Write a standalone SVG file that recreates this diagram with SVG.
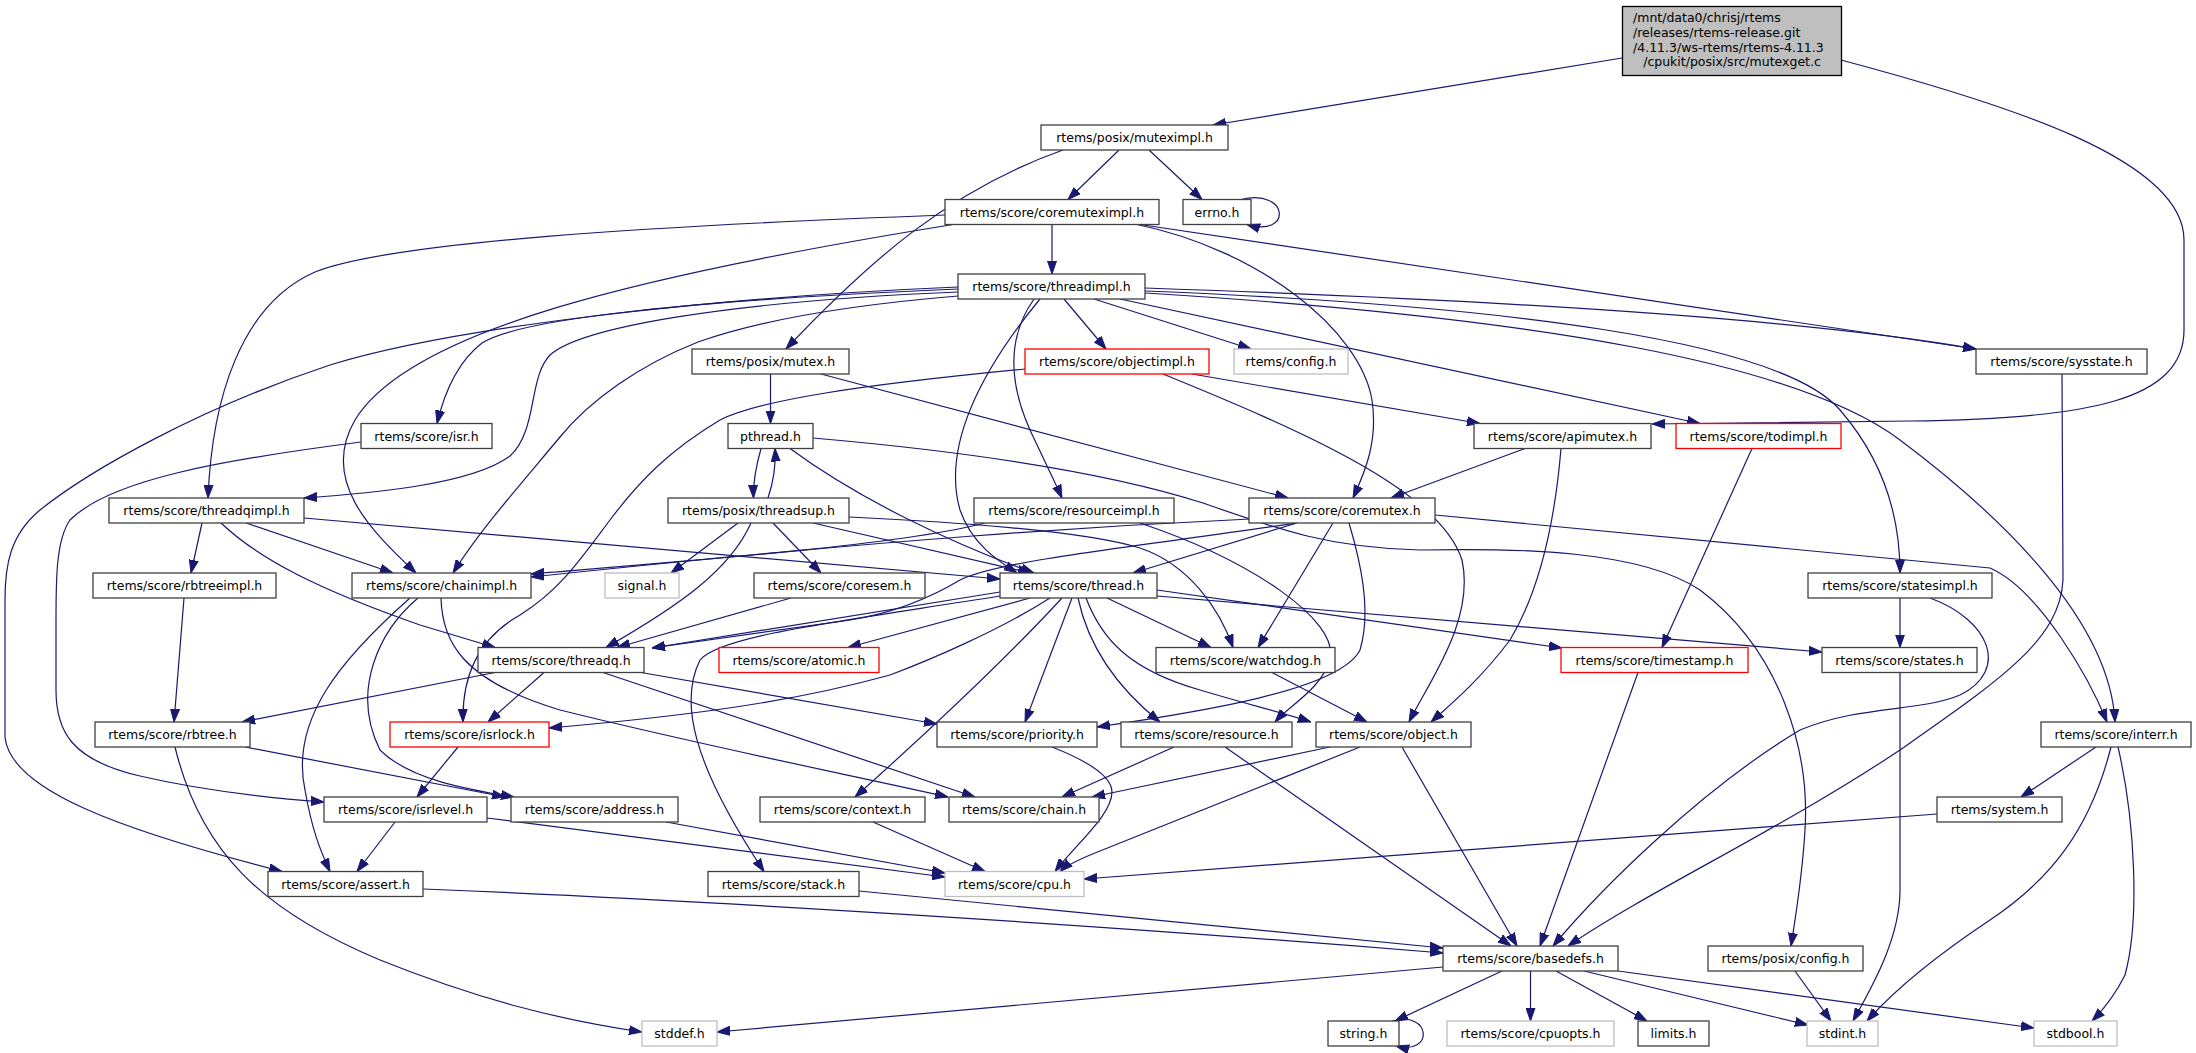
<svg xmlns="http://www.w3.org/2000/svg" width="2196" height="1053" viewBox="0 0 2196 1053">
<style>
.n rect{fill:#ffffff;stroke:#404040;stroke-width:1.3}
.n.r rect{stroke:#ff0000}
.n.g rect{stroke:#bfbfbf}
text{font-family:"DejaVu Sans",Verdana,sans-serif;font-size:12.5px;fill:#000000;text-anchor:middle}
.e path{fill:none;stroke:#191970;stroke-width:1.2;marker-end:url(#a)}
</style>
<defs>
<marker id="a" markerUnits="userSpaceOnUse" markerWidth="13" markerHeight="10" refX="13" refY="5" orient="auto" viewBox="0 0 13 10">
<path d="M0,0.5 L13,5 L0,9.5 z" fill="#191970" stroke="#191970" stroke-width="1"/>
</marker>
</defs>
<rect x="0" y="0" width="2196" height="1053" fill="#ffffff"/>
<g id="edges" class="e">
<path d="M1622,58 L1213,125"/>
<path d="M1841,60 C2010,105 2184,160 2184,240 L2184,330 C2184,400 2090,419 1910,421 L1652,424"/>
<path d="M1063,150 C950,190 870,260 786,349"/>
<path d="M1119,150 L1068,199.5"/>
<path d="M1149,150 L1202,199.5"/>
<path d="M1241,199.5 C1290,188 1292,238 1247,224.5"/>
<path d="M1052,224.5 L1052,274"/>
<path d="M945,215 C650,226 390,242 315,272 C240,305 212,400 208,498"/>
<path d="M953,224.5 C640,275 410,330 355,420 C320,480 370,530 416,573"/>
<path d="M1137,224.5 C1260,250 1360,330 1372,400 C1378,440 1366,470 1353,498"/>
<path d="M1140,224.5 L1976,349"/>
<path d="M958,287 C700,298 450,328 330,365 C200,408 90,470 40,510 C10,535 5,565 5,600 L5,737 C10,790 120,830 282,871.5"/>
<path d="M958,289 C700,300 520,318 482,343 C460,360 445,390 437,423.5"/>
<path d="M958,292 C720,302 580,328 550,355 C528,378 538,430 510,456 C470,486 360,494 304,498"/>
<path d="M958,296 C850,305 760,320 698,342 C640,365 590,400 560,437 C520,485 480,530 453,573"/>
<path d="M1040,299 C990,360 940,440 960,510 C972,545 1000,562 1017,573"/>
<path d="M1064,299 L1106,349"/>
<path d="M1094,299 L1251,349"/>
<path d="M1034,299 C1005,340 1010,385 1030,430 C1045,462 1055,482 1062,498"/>
<path d="M1120,299 L1700,423.5"/>
<path d="M1145,288 C1500,300 1800,318 1976,349"/>
<path d="M1145,291 C1500,305 1780,340 1840,410 C1885,462 1900,520 1900,573"/>
<path d="M1145,293 C1550,318 1800,365 1900,440 C2000,515 2110,620 2115,722"/>
<path d="M770.5,374 L770.5,423.5"/>
<path d="M821,374 L1288,498"/>
<path d="M761,448.5 C755,470 753,485 753.5,498"/>
<path d="M768,498 C774,480 776,465 775,448.5"/>
<path d="M790,448.5 C860,500 955,545 1034,573"/>
<path d="M813,438 C950,450 1100,470 1203,503 C1280,530 1330,548 1420,550 C1520,548 1640,550 1700,590 C1780,650 1810,750 1805,830 C1802,880 1795,920 1791,946"/>
<path d="M738,523 L671,573"/>
<path d="M773,523 L821,573"/>
<path d="M751,523 C730,570 680,605 606,647.5"/>
<path d="M813,523 L1031,573"/>
<path d="M849,517 C950,522 1080,530 1140,548 C1190,565 1220,610 1233,647.5"/>
<path d="M791,598 L617,647.5"/>
<path d="M985,523 C900,545 700,560 531,574"/>
<path d="M1250,519 C1100,526 900,538 531,577"/>
<path d="M1140,523 C1250,560 1340,620 1330,660 C1320,690 1290,705 1275,722"/>
<path d="M1297,523 L1133,573"/>
<path d="M1297,523 C1150,545 1000,560 960,580 C935,595 900,612 850,620 L652,648"/>
<path d="M1333,523 L1258,647.5"/>
<path d="M1349,523 C1360,560 1372,610 1360,650 C1340,690 1200,712 1097,727"/>
<path d="M1435,515 L1990,568 C2040,590 2090,680 2107,722"/>
<path d="M1525,448.5 L1391,498"/>
<path d="M1561,448.5 C1555,520 1540,590 1510,640 C1480,680 1450,705 1431,722"/>
<path d="M1752,448.5 L1662,647.5"/>
<path d="M1192,374 L1480,423.5"/>
<path d="M1163,374 C1300,430 1440,490 1462,560 C1475,620 1430,680 1409,722"/>
<path d="M1025,369 C860,385 760,400 720,420 C670,450 640,480 610,520 C580,560 560,590 520,615 C475,640 462,680 463,722"/>
<path d="M202,523 L191,573"/>
<path d="M246,523 L393,573"/>
<path d="M221,523 C260,560 320,590 420,625 L495,647.5"/>
<path d="M304,518 L1000,579"/>
<path d="M184,598 L174,722"/>
<path d="M441,598 C442,640 460,680 560,710 C700,745 850,775 948,797"/>
<path d="M418,598 C380,630 350,690 380,750 C410,780 470,790 514,797"/>
<path d="M410,598 C340,660 290,720 305,790 C312,830 320,850 330,871.5"/>
<path d="M245,747 L505,797"/>
<path d="M175,747 C200,850 260,910 380,960 C480,1000 560,1020 642,1032"/>
<path d="M495,672.5 L242,722"/>
<path d="M544,672.5 L488,722"/>
<path d="M641,672.5 L937,724"/>
<path d="M603,672.5 L975,797"/>
<path d="M458,747 L417,797"/>
<path d="M361,442 C220,460 110,480 70,520 C56,540 56,580 56,620 L56,690 C56,730 70,760 140,776 C200,790 270,798 324,802"/>
<path d="M395,822 L357,871.5"/>
<path d="M487,818 L945,877"/>
<path d="M666,822 L945,873"/>
<path d="M873,822 L985,871.5"/>
<path d="M1052,747 C1085,760 1112,775 1112,792 C1112,815 1075,845 1055,871.5"/>
<path d="M1360,747 L1100,851 C1082,858 1068,864 1060,871.5"/>
<path d="M1937,814 L1084,879"/>
<path d="M859,891 L1443,948"/>
<path d="M423,889 C700,900 1100,925 1443,953"/>
<path d="M1225,747 L1511,946"/>
<path d="M1402,747 L1517,946"/>
<path d="M1638,672.5 L1540,946"/>
<path d="M1930,598 C1990,620 2010,670 1960,695 C1920,712 1860,705 1800,730 C1700,790 1600,890 1553,946"/>
<path d="M2062,374 L2063,580 C2060,640 2000,680 1900,750 C1780,830 1650,890 1568,946"/>
<path d="M2096,747 L2021,797"/>
<path d="M2111,747 C2090,830 2050,880 1990,920 C1930,960 1890,995 1867,1021"/>
<path d="M2118,747 C2135,820 2140,920 2125,975 C2115,995 2103,1010 2092,1021"/>
<path d="M1900,672.5 L1900,890 C1900,940 1870,990 1853,1021"/>
<path d="M1795,971 L1831,1021"/>
<path d="M1584,971 L1808,1025"/>
<path d="M1618,971 L2034,1028"/>
<path d="M1556,971 L1647,1021"/>
<path d="M1530.5,971 L1530.5,1021"/>
<path d="M1502,971 L1395,1021"/>
<path d="M1443,967 L717,1032"/>
<path d="M1392,1021 C1432,1010 1434,1056 1396,1046"/>
<path d="M1030,598 L848,647.5"/>
<path d="M1050,598 C1000,630 930,660 890,675 C800,700 700,715 549,728"/>
<path d="M1062,598 C1005,660 930,730 855,797"/>
<path d="M1072,598 L1025,722"/>
<path d="M1000,596 C850,620 720,635 700,660 C680,700 690,760 764,871.5"/>
<path d="M1078,598 C1087,640 1110,682 1160,722"/>
<path d="M1086,598 C1102,640 1130,670 1200,690 C1250,705 1280,712 1311,722"/>
<path d="M1107,598 L1211,647.5"/>
<path d="M1157,590 L1562,648"/>
<path d="M1157,596 L1822,652"/>
<path d="M1272,672.5 L1367,722"/>
<path d="M1000,592 L652,648"/>
<path d="M1900,598 L1900,647.5"/>
<path d="M1174,747 L1062,797"/>
<path d="M1330,747 L1092,797"/>
</g>
<g id="main" class="n"><rect x="1622.5" y="6.5" width="219" height="69" style="fill:#bfbfbf;stroke:#000000"/>
<text x="1633" y="22" style="text-anchor:start">/mnt/data0/chrisj/rtems</text>
<text x="1633" y="37" style="text-anchor:start">/releases/rtems-release.git</text>
<text x="1633" y="51.5" style="text-anchor:start">/4.11.3/ws-rtems/rtems-4.11.3</text>
<text x="1732" y="66">/cpukit/posix/src/mutexget.c</text></g>
<g id="muteximpl" class="n"><rect x="1041" y="125" width="187" height="25"/><text x="1134.5" y="142">rtems/posix/muteximpl.h</text></g>
<g id="coremuteximpl" class="n"><rect x="945" y="199.5" width="214" height="25"/><text x="1052" y="216.5">rtems/score/coremuteximpl.h</text></g>
<g id="errno" class="n"><rect x="1183" y="199.5" width="68" height="25"/><text x="1217" y="216.5">errno.h</text></g>
<g id="threadimpl" class="n"><rect x="958" y="274" width="187" height="25"/><text x="1051.5" y="291">rtems/score/threadimpl.h</text></g>
<g id="mutex" class="n"><rect x="692" y="349" width="157" height="25"/><text x="770.5" y="366">rtems/posix/mutex.h</text></g>
<g id="objectimpl" class="n r"><rect x="1025" y="349" width="184" height="25"/><text x="1117" y="366">rtems/score/objectimpl.h</text></g>
<g id="config" class="n g"><rect x="1234" y="349" width="114" height="25"/><text x="1291" y="366">rtems/config.h</text></g>
<g id="sysstate" class="n"><rect x="1976" y="349" width="171" height="25"/><text x="2061.5" y="366">rtems/score/sysstate.h</text></g>
<g id="isr" class="n"><rect x="361" y="423.5" width="131" height="25"/><text x="426.5" y="440.5">rtems/score/isr.h</text></g>
<g id="pthread" class="n"><rect x="728" y="423.5" width="85" height="25"/><text x="770.5" y="440.5">pthread.h</text></g>
<g id="apimutex" class="n"><rect x="1474" y="423.5" width="177" height="25"/><text x="1562.5" y="440.5">rtems/score/apimutex.h</text></g>
<g id="todimpl" class="n r"><rect x="1676" y="423.5" width="165" height="25"/><text x="1758.5" y="440.5">rtems/score/todimpl.h</text></g>
<g id="threadqimpl" class="n"><rect x="109" y="498" width="195" height="25"/><text x="206.5" y="515">rtems/score/threadqimpl.h</text></g>
<g id="threadsup" class="n"><rect x="668" y="498" width="181" height="25"/><text x="758.5" y="515">rtems/posix/threadsup.h</text></g>
<g id="resourceimpl" class="n"><rect x="974" y="498" width="200" height="25"/><text x="1074" y="515">rtems/score/resourceimpl.h</text></g>
<g id="coremutex" class="n"><rect x="1249" y="498" width="186" height="25"/><text x="1342" y="515">rtems/score/coremutex.h</text></g>
<g id="rbtreeimpl" class="n"><rect x="93" y="573" width="183" height="25"/><text x="184.5" y="590">rtems/score/rbtreeimpl.h</text></g>
<g id="chainimpl" class="n"><rect x="352" y="573" width="179" height="25"/><text x="441.5" y="590">rtems/score/chainimpl.h</text></g>
<g id="signal" class="n g"><rect x="605" y="573" width="74" height="25"/><text x="642" y="590">signal.h</text></g>
<g id="coresem" class="n"><rect x="754" y="573" width="171" height="25"/><text x="839.5" y="590">rtems/score/coresem.h</text></g>
<g id="thread" class="n"><rect x="1000" y="573" width="157" height="25"/><text x="1078.5" y="590">rtems/score/thread.h</text></g>
<g id="statesimpl" class="n"><rect x="1808" y="573" width="184" height="25"/><text x="1900" y="590">rtems/score/statesimpl.h</text></g>
<g id="threadq" class="n"><rect x="478" y="647.5" width="166" height="25"/><text x="561" y="664.5">rtems/score/threadq.h</text></g>
<g id="atomic" class="n r"><rect x="719" y="647.5" width="160" height="25"/><text x="799" y="664.5">rtems/score/atomic.h</text></g>
<g id="watchdog" class="n"><rect x="1156" y="647.5" width="179" height="25"/><text x="1245.5" y="664.5">rtems/score/watchdog.h</text></g>
<g id="timestamp" class="n r"><rect x="1561" y="647.5" width="187" height="25"/><text x="1654.5" y="664.5">rtems/score/timestamp.h</text></g>
<g id="states" class="n"><rect x="1822" y="647.5" width="155" height="25"/><text x="1899.5" y="664.5">rtems/score/states.h</text></g>
<g id="rbtree" class="n"><rect x="95" y="722" width="155" height="25"/><text x="172.5" y="739">rtems/score/rbtree.h</text></g>
<g id="isrlock" class="n r"><rect x="390" y="722" width="159" height="25"/><text x="469.5" y="739">rtems/score/isrlock.h</text></g>
<g id="priority" class="n"><rect x="937" y="722" width="160" height="25"/><text x="1017" y="739">rtems/score/priority.h</text></g>
<g id="resource" class="n"><rect x="1121" y="722" width="171" height="25"/><text x="1206.5" y="739">rtems/score/resource.h</text></g>
<g id="object" class="n"><rect x="1316" y="722" width="155" height="25"/><text x="1393.5" y="739">rtems/score/object.h</text></g>
<g id="interr" class="n"><rect x="2041" y="722" width="150" height="25"/><text x="2116" y="739">rtems/score/interr.h</text></g>
<g id="isrlevel" class="n"><rect x="324" y="797" width="163" height="25"/><text x="405.5" y="814">rtems/score/isrlevel.h</text></g>
<g id="address" class="n"><rect x="511" y="797" width="167" height="25"/><text x="594.5" y="814">rtems/score/address.h</text></g>
<g id="context" class="n"><rect x="760" y="797" width="165" height="25"/><text x="842.5" y="814">rtems/score/context.h</text></g>
<g id="chain" class="n"><rect x="949" y="797" width="150" height="25"/><text x="1024" y="814">rtems/score/chain.h</text></g>
<g id="system" class="n"><rect x="1937" y="797" width="125" height="25"/><text x="1999.5" y="814">rtems/system.h</text></g>
<g id="assert" class="n"><rect x="268" y="871.5" width="155" height="25"/><text x="345.5" y="888.5">rtems/score/assert.h</text></g>
<g id="stack" class="n"><rect x="708" y="871.5" width="151" height="25"/><text x="783.5" y="888.5">rtems/score/stack.h</text></g>
<g id="cpu" class="n g"><rect x="945" y="871.5" width="139" height="25"/><text x="1014.5" y="888.5">rtems/score/cpu.h</text></g>
<g id="basedefs" class="n"><rect x="1443" y="946" width="175" height="25"/><text x="1530.5" y="963">rtems/score/basedefs.h</text></g>
<g id="posixconfig" class="n"><rect x="1708" y="946" width="155" height="25"/><text x="1785.5" y="963">rtems/posix/config.h</text></g>
<g id="stddef" class="n g"><rect x="642" y="1021" width="75" height="25"/><text x="679.5" y="1038">stddef.h</text></g>
<g id="string" class="n"><rect x="1328" y="1021" width="71" height="25"/><text x="1363.5" y="1038">string.h</text></g>
<g id="cpuopts" class="n g"><rect x="1447" y="1021" width="167" height="25"/><text x="1530.5" y="1038">rtems/score/cpuopts.h</text></g>
<g id="limits" class="n"><rect x="1638" y="1021" width="71" height="25"/><text x="1673.5" y="1038">limits.h</text></g>
<g id="stdint" class="n g"><rect x="1807" y="1021" width="71" height="25"/><text x="1842.5" y="1038">stdint.h</text></g>
<g id="stdbool" class="n g"><rect x="2034" y="1021" width="83" height="25"/><text x="2075.5" y="1038">stdbool.h</text></g>
</svg>
